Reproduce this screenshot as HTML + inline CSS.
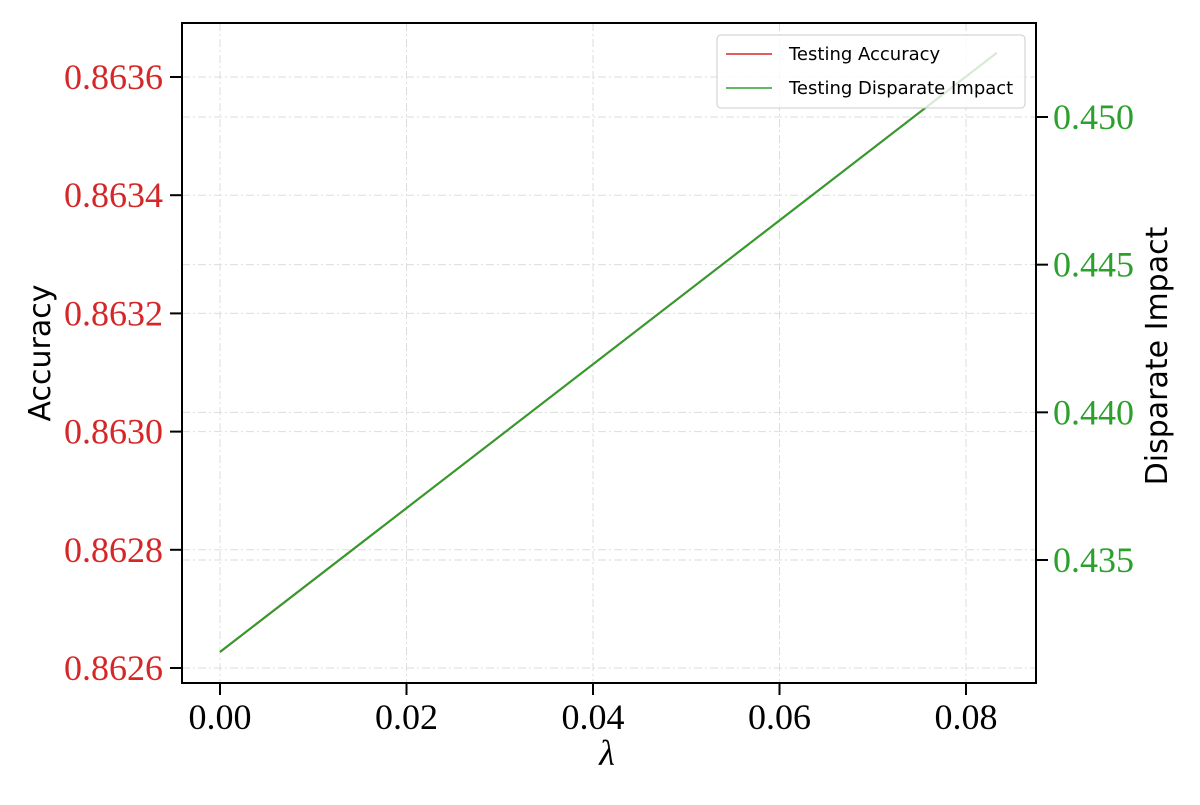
<!DOCTYPE html>
<html><head><meta charset="utf-8"><style>
body{margin:0;background:#fff;width:1200px;height:800px;overflow:hidden}
svg text{font-family:"Liberation Serif",serif}
.sans{font-family:"DejaVu Sans","Liberation Sans",sans-serif}
</style></head><body>
<svg id="chart" width="1200" height="800">
<g id="grid"></g>
<g id="lines"></g>
<rect x="182" y="23" width="854" height="660" fill="none" stroke="#000" stroke-width="2"/>
<g id="axes"></g>
<text x="607" y="765" font-size="36" font-style="italic" text-anchor="middle">λ</text>
<text class="sans" transform="translate(50,353) rotate(-90)" font-size="30" text-anchor="middle">Accuracy</text>
<text class="sans" transform="translate(1167,356) rotate(-90)" font-size="30" text-anchor="middle">Disparate Impact</text>
<g>
<rect x="717" y="35" width="308" height="73" rx="4" fill="#fff" fill-opacity="0.8" stroke="#ccc"/>
<line x1="726" y1="54" x2="772" y2="54" stroke="#d62728" stroke-width="1.5"/>
<text class="sans" x="789" y="60" font-size="18">Testing Accuracy</text>
<line x1="726" y1="88" x2="772" y2="88" stroke="#2ca02c" stroke-width="1.5"/>
<text class="sans" x="789" y="94" font-size="18">Testing Disparate Impact</text>
</g>
</svg>
<script>
const lambdas=[0,0.0833];
const accuracy=[0.862627,0.863641];
const disparate=[0.43189,0.45217];
const xTicks=[0,0.02,0.04,0.06,0.08];
const xTickLabels=["0.00","0.02","0.04","0.06","0.08"];
const accTicks=[0.8626,0.8628,0.8630,0.8632,0.8634,0.8636];
const accTickLabels=["0.8626","0.8628","0.8630","0.8632","0.8634","0.8636"];
const diTicks=[0.435,0.440,0.445,0.450];
const diTickLabels=["0.435","0.440","0.445","0.450"];
const NS="http://www.w3.org/2000/svg";
const X=v=>220+v*(966-220)/0.08;
const YA=v=>668-(v-0.8626)*(668-77)/0.001;
const YD=v=>560-(v-0.435)*(560-117)/0.015;
function mk(p,t,a){const e=document.createElementNS(NS,t);for(const k in a)e.setAttribute(k,a[k]);p.appendChild(e);return e;}
const grid=document.getElementById('grid'),axes=document.getElementById('axes'),lines=document.getElementById('lines');
xTicks.forEach((v,i)=>{const x=X(v);
 const g=mk(grid,'line',{x1:x,x2:x,y1:23,y2:683,stroke:'#ddd','stroke-dasharray':'8 3 2 3'});
 
 
 const t=mk(axes,'line',{x1:x,x2:x,y1:683,y2:695,stroke:'#000','stroke-width':2});
 
 
 const l=mk(axes,'text',{x:x,y:729,'font-size':36,'text-anchor':'middle'});l.textContent=xTickLabels[i];
 
 
});
accTicks.forEach((v,i)=>{const y=YA(v);
 const g=mk(grid,'line',{x1:182,x2:1036,y1:y,y2:y,stroke:'#ddd','stroke-dasharray':'8 3 2 3'});
 
 
 const t=mk(axes,'line',{x1:170,x2:182,y1:y,y2:y,stroke:'#000','stroke-width':2});
 
 
 const l=mk(axes,'text',{x:163,y:y+12,'font-size':36,'text-anchor':'end',fill:'#d62728'});l.textContent=accTickLabels[i];
 
 
});
diTicks.forEach((v,i)=>{const y=YD(v);
 const g=mk(grid,'line',{x1:182,x2:1036,y1:y,y2:y,stroke:'#ddd','stroke-dasharray':'8 3 2 3'});
 
 
 const t=mk(axes,'line',{x1:1036,x2:1048,y1:y,y2:y,stroke:'#000','stroke-width':2});
 
 
 const l=mk(axes,'text',{x:1053,y:y+12,'font-size':36,fill:'#2ca02c'});l.textContent=diTickLabels[i];
 
 
});
const pa=mk(lines,'polyline',{points:lambdas.map((v,i)=>X(v)+','+YA(accuracy[i])).join(' '),fill:'none',stroke:'#d62728','stroke-width':2});


const pd=mk(lines,'polyline',{points:lambdas.map((v,i)=>X(v)+','+YD(disparate[i])).join(' '),fill:'none',stroke:'#2ca02c','stroke-width':2});


</script>
</body></html>
